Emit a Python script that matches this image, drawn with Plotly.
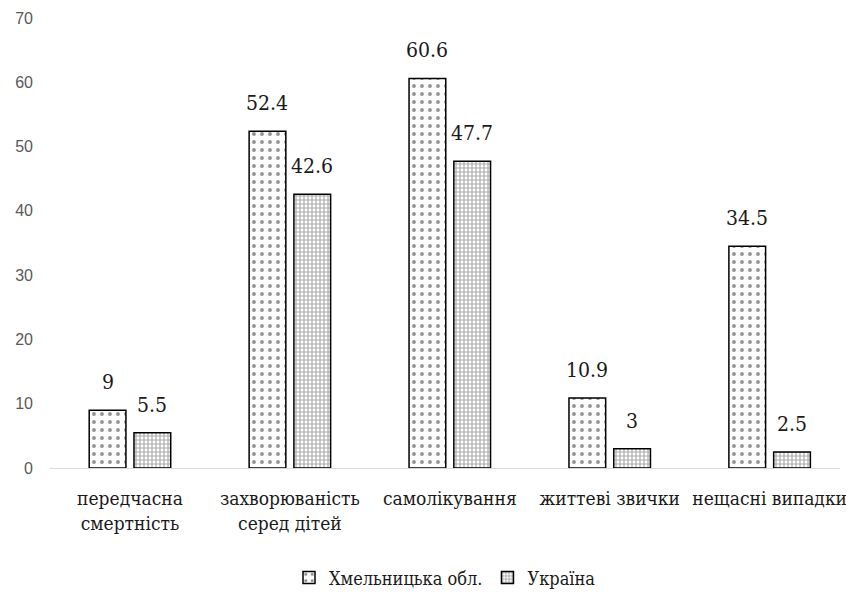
import plotly.graph_objects as go

categories = ["передчасна<br>смертність", "захворюваність<br>серед дітей", "самолікування",
              "життеві звички", "нещасні випадки"]
khmelnytska = [9, 52.4, 60.6, 10.9, 34.5]
ukraine = [5.5, 42.6, 47.7, 3, 2.5]
series_names = ["Хмельницька обл.", "Україна"]
y_ticks = [0, 10, 20, 30, 40, 50, 60, 70]

serif = "DejaVu Serif Condensed, DejaVu Serif"
bargap = 0.44
bargroupgap = 0.18

x_idx = list(range(len(categories)))

fig = go.Figure()
fig.add_trace(go.Bar(
    x=x_idx, y=khmelnytska, name=series_names[0],
    marker=dict(color="white", line=dict(color="black", width=1.5),
                pattern=dict(shape=".", fgcolor="#222", bgcolor="white", size=8, solidity=0.18)),
))
fig.add_trace(go.Bar(
    x=x_idx, y=ukraine, name=series_names[1],
    marker=dict(color="white", line=dict(color="black", width=1.5),
                pattern=dict(shape="+", fgcolor="#555", bgcolor="white", size=4, solidity=0.5)),
))

# value labels above each bar, offset to the bar's slot within the group
slot = (1 - bargap) / 2
for k, vals in enumerate([khmelnytska, ukraine]):
    off = (k - 0.5) * slot
    for i, v in enumerate(vals):
        fig.add_annotation(x=i + off, y=v, text=f"{v:g}", showarrow=False,
                           yanchor="middle", yshift=28,
                           font=dict(family=serif, size=21, color="#1a1a1a"))

fig.update_layout(
    width=846, height=597,
    margin=dict(l=50, r=0, t=18, b=129),
    paper_bgcolor="white", plot_bgcolor="white",
    barmode="group", bargap=bargap, bargroupgap=bargroupgap,
    showlegend=True,
    legend=dict(orientation="h", x=0.5, xanchor="center", y=-0.244, yanchor="middle",
                font=dict(family=serif, size=18, color="#1a1a1a"), itemwidth=30),
    xaxis=dict(tickmode="array", tickvals=x_idx, ticktext=categories,
               range=[-0.5, 4.44], showgrid=False, zeroline=False,
               showline=True, linecolor="#d9d9d9", linewidth=1,
               ticks="", ticklabelstandoff=13, ticklabeloverflow="allow",
               tickfont=dict(family=serif, size=19, color="#1a1a1a")),
    yaxis=dict(range=[0, 70], tickvals=y_ticks, showgrid=False, zeroline=False,
               showline=False, ticks="", ticklabelstandoff=16,
               tickfont=dict(family="Liberation Sans", size=16, color="#595959")),
)

fig.write_html("out.html")
